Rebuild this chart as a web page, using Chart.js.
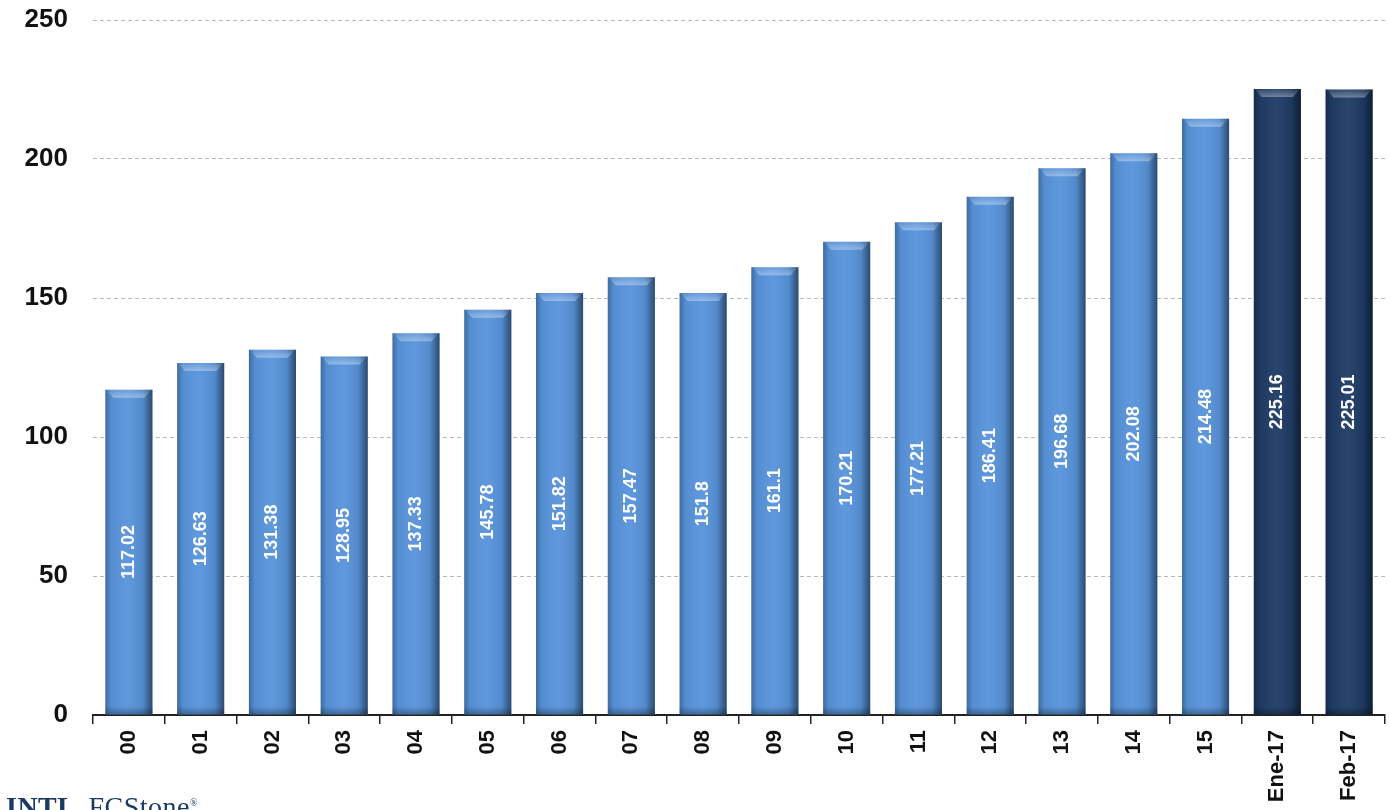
<!DOCTYPE html>
<html>
<head>
<meta charset="utf-8">
<script src="https://cdn.jsdelivr.net/npm/chart.js@4"></script>
<style>
html,body{margin:0;padding:0;background:#fff;overflow:hidden;width:1390px;height:810px;}
#wrap{position:relative;width:1390px;height:810px;}
#logo{position:absolute;left:6px;top:791px;font-family:"Liberation Serif",serif;font-size:28px;color:#1b3a63;white-space:nowrap;letter-spacing:0.5px;}
#logo b{font-weight:bold;margin-right:12px;}
#logo sup{font-size:10px;}
</style>
</head>
<body>
<div id="wrap">
<canvas id="c" width="1390" height="810"></canvas>
<div id="logo"><b>INTL</b>FCStone<sup>®</sup></div>
</div>
<script>
const categories = ["00","01","02","03","04","05","06","07","08","09","10","11","12","13","14","15","Ene-17","Feb-17"];
const values = [117.02,126.63,131.38,128.95,137.33,145.78,151.82,157.47,151.8,161.1,170.21,177.21,186.41,196.68,202.08,214.48,225.16,225.01];
const valueLabels = ["117.02","126.63","131.38","128.95","137.33","145.78","151.82","157.47","151.8","161.1","170.21","177.21","186.41","196.68","202.08","214.48","225.16","225.01"];
const yTicks = [0,50,100,150,200,250];
const isForecast = [false,false,false,false,false,false,false,false,false,false,false,false,false,false,false,false,true,true];

const LIGHT = "#5894DB";
const DARK = "#1F3C66";

const bevelPlugin = {
  id: "bevel",
  afterDatasetsDraw(chart) {
    const ctx = chart.ctx;
    const meta = chart.getDatasetMeta(0);
    meta.data.forEach((bar, i) => {
      const w = bar.width;
      const x0 = bar.x - w / 2, x1 = bar.x + w / 2;
      const top = bar.y, bot = bar.base;
      ctx.save();
      const g = ctx.createLinearGradient(x0, 0, x1, 0);
      g.addColorStop(0, "rgba(0,0,0,0.28)");
      g.addColorStop(0.12, "rgba(0,0,0,0.05)");
      g.addColorStop(0.45, "rgba(255,255,255,0.04)");
      g.addColorStop(0.8, "rgba(0,0,0,0.08)");
      g.addColorStop(1, "rgba(0,0,0,0.5)");
      ctx.fillStyle = g;
      ctx.fillRect(x0, top, w, bot - top);
      ctx.beginPath();
      ctx.moveTo(x0 + 1, top);
      ctx.lineTo(x1 - 1, top);
      ctx.lineTo(x1 - 8, top + 8);
      ctx.lineTo(x0 + 8, top + 8);
      ctx.closePath();
      const gt = ctx.createLinearGradient(0, top, 0, top + 8);
      gt.addColorStop(0, "rgba(255,255,255,0.05)");
      gt.addColorStop(1, "rgba(255,255,255,0.35)");
      ctx.fillStyle = gt;
      ctx.fill();
      const gb = ctx.createLinearGradient(0, bot - 8, 0, bot);
      gb.addColorStop(0, "rgba(0,0,0,0)");
      gb.addColorStop(1, "rgba(0,0,0,0.3)");
      ctx.fillStyle = gb;
      ctx.fillRect(x0, bot - 8, w, 8);
      ctx.restore();
    });
  }
};

const labelPlugin = {
  id: "valueLabels",
  afterDatasetsDraw(chart) {
    const ctx = chart.ctx;
    const meta = chart.getDatasetMeta(0);
    meta.data.forEach((bar, i) => {
      const cy = (bar.y + bar.base) / 2;
      ctx.save();
      ctx.translate(bar.x, cy);
      ctx.rotate(-Math.PI / 2);
      ctx.font = "bold 18px 'Liberation Sans', Arial, sans-serif";
      ctx.fillStyle = "#ffffff";
      ctx.textAlign = "center";
      ctx.textBaseline = "middle";
      ctx.fillText(valueLabels[i], 0, 0);
      ctx.restore();
    });
  }
};

new Chart(document.getElementById("c"), {
  type: "bar",
  data: {
    labels: categories,
    datasets: [{
      data: values,
      backgroundColor: isForecast.map(f => f ? DARK : LIGHT),
      borderWidth: 0,
      barPercentage: 0.82,
      categoryPercentage: 0.8
    }]
  },
  options: {
    responsive: false,
    animation: false,
    devicePixelRatio: 1,
    layout: { padding: { top: 20, right: 5, left: 0, bottom: 0 } },
    plugins: { legend: { display: false }, tooltip: { enabled: false }, title: { display: false } },
    scales: {
      x: {
        grid: { display: true, drawOnChartArea: false, drawTicks: true, tickLength: 9, offset: true, color: "#222", lineWidth: 1.5 },
        border: { display: true, color: "#222", width: 2 },
        ticks: {
          maxRotation: 90, minRotation: 90, padding: 6,
          color: "#111",
          font: { family: "'Liberation Sans', Arial, sans-serif", size: 22, weight: "bold" }
        },
        afterFit(scale) { scale.height = 95; scale.paddingLeft = 0; scale.paddingRight = 0; }
      },
      y: {
        min: 0, max: 250,
        afterBuildTicks(scale) { scale.ticks = yTicks.map(v => ({ value: v })); },
        grid: { color: "#b8b8b8", lineWidth: 1, drawTicks: false },
        border: { display: false, dash: [4, 3] },
        ticks: {
          padding: 25,
          color: "#111",
          font: { family: "'Liberation Sans', Arial, sans-serif", size: 26, weight: "bold" }
        },
        afterFit(scale) { scale.width = 93; scale.paddingTop = 0; scale.paddingBottom = 0; }
      }
    }
  },
  plugins: [bevelPlugin, labelPlugin]
});
</script>
</body>
</html>
